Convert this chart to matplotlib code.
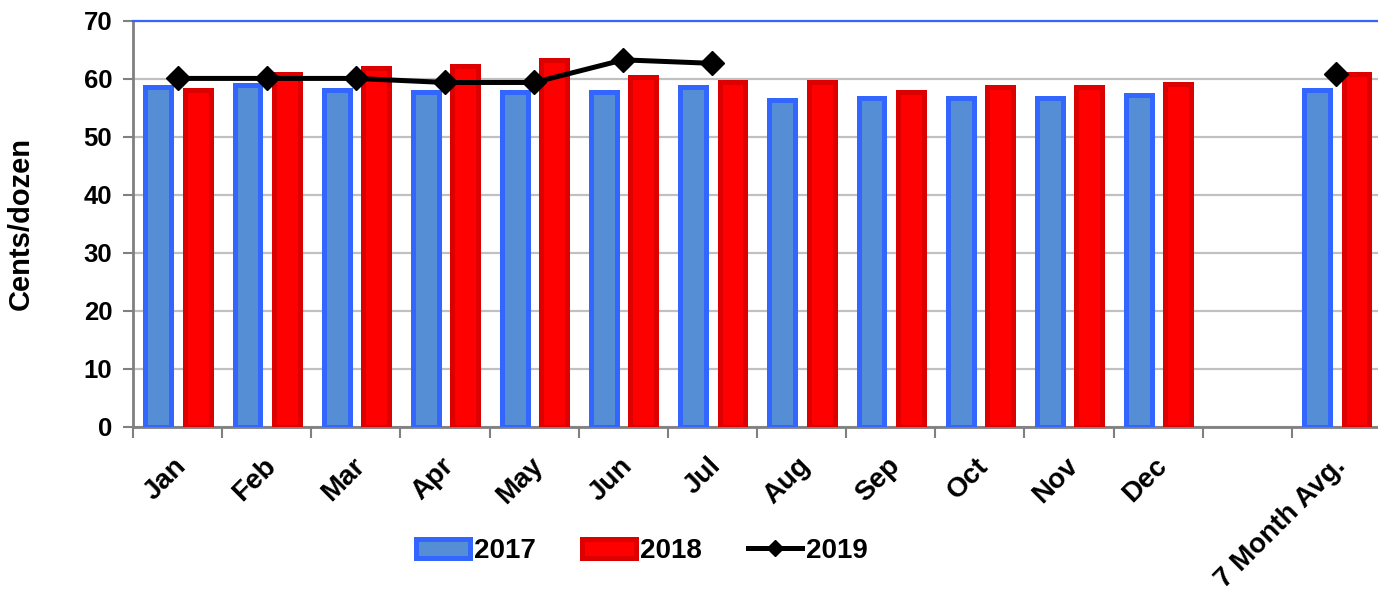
import matplotlib
matplotlib.use("Agg")
import matplotlib.pyplot as plt
import matplotlib.transforms as mtransforms
import numpy as np

categories = ["Jan", "Feb", "Mar", "Apr", "May", "Jun", "Jul", "Aug", "Sep",
              "Oct", "Nov", "Dec", "", "7 Month Avg."]
vals_2017 = [58.7, 58.9, 58.1, 57.7, 57.7, 57.7, 58.7, 56.4, 56.8, 56.8, 56.8, 57.3, None, 58.1]
vals_2018 = [58.1, 60.9, 61.9, 62.3, 63.2, 60.4, 59.5, 59.5, 57.7, 58.7, 58.7, 59.1, None, 60.9]
vals_2019 = [60.1, 60.1, 60.1, 59.4, 59.4, 63.3, 62.7]
avg_2019 = 60.8
yticks = [0, 10, 20, 30, 40, 50, 60, 70]

plt.rcParams['font.family'] = ['Liberation Sans', 'DejaVu Sans']
plt.rcParams['font.weight'] = 'bold'

W, H = 1378, 594
fig = plt.figure(figsize=(W / 100, H / 100), dpi=100)
ax = fig.add_axes([133 / W, 1 - 427 / H, (1381 - 133) / W, (427 - 21) / H])

x = np.arange(len(categories))
bw = 0.29
mask = [v is not None for v in vals_2017]
xb = x[mask]
v17 = [v for v in vals_2017 if v is not None]
v18 = [v for v in vals_2018 if v is not None]

b17 = ax.bar(xb - 0.215, v17, width=bw, color="#558ED5", edgecolor="#3366FF",
             linewidth=3.6, label="2017", zorder=3)
b18 = ax.bar(xb + 0.225, v18, width=bw, color="#FF0000", edgecolor="#DD0000",
             linewidth=3.6, label="2018", zorder=3)
l19, = ax.plot(x[:len(vals_2019)], vals_2019, color="black", linewidth=3.6,
               marker="D", markersize=12, label="2019", zorder=5)
ax.plot([x[-1]], [avg_2019], color="black", linestyle="none",
        marker="D", markersize=12, zorder=5)

ax.set_xlim(-0.5, len(categories) - 0.5)
ax.set_ylim(0, 70)
ax.set_yticks(yticks)
ax.tick_params(axis='y', labelsize=18.5, length=7, width=1.5, color="#808080", pad=8)
for t in ax.get_yticklabels():
    t.set_fontweight('bold')

ax.grid(axis='y', color="#C0C0C0", linewidth=1.6, zorder=0)
ax.set_axisbelow(True)

ax.set_xticks(x)
ax.set_xticklabels(categories, rotation=45, ha='right', va='center',
                   rotation_mode='anchor', fontsize=20, fontweight='bold')
ax.tick_params(axis='x', which='major', length=0, pad=0)
ax.set_xticks(np.arange(-0.5, len(categories) - 0.5 + 0.01, 1), minor=True)
ax.tick_params(axis='x', which='minor', length=8, width=1.5, color="#808080")
offset = mtransforms.ScaledTranslation(5 / 100, -35 / 100, fig.dpi_scale_trans)
for lab in ax.get_xticklabels():
    lab.set_transform(lab.get_transform() + offset)

for s in ['left', 'bottom']:
    ax.spines[s].set_color("#808080")
    ax.spines[s].set_linewidth(2)
ax.spines['right'].set_visible(False)
ax.spines['top'].set_color("#3366FF")
ax.spines['top'].set_linewidth(1.6)

ax.set_ylabel("Cents/dozen", fontsize=21, fontweight='bold')
ax.yaxis.set_label_coords(-0.079, 0.5)

leg = fig.legend(handles=[b17, b18, l19], labels=["2017", "2018", "2019"],
                 loc='center', bbox_to_anchor=(642 / W, 1 - 551 / H), ncol=3,
                 frameon=False, fontsize=20, handlelength=1.95, handletextpad=0.15,
                 columnspacing=1.65, markerscale=0.7)
for t in leg.get_texts():
    t.set_fontweight('bold')

fig.savefig("out.png", dpi=100)
